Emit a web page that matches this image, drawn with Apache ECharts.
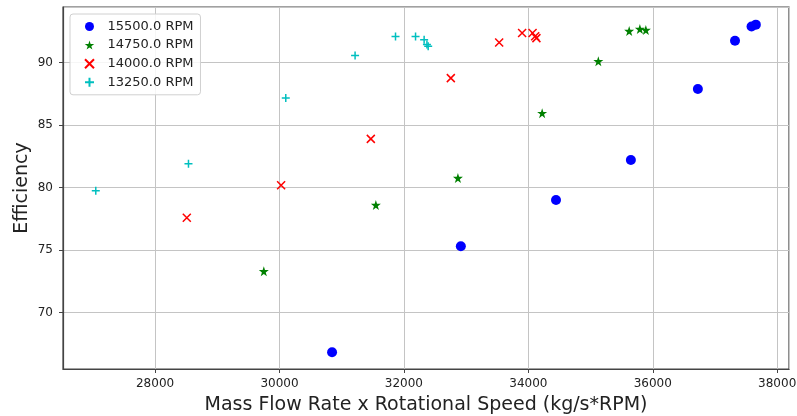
<!DOCTYPE html>
<html>
<head>
<meta charset="utf-8">
<script src="https://cdn.jsdelivr.net/npm/echarts@6/dist/echarts.min.js"></script>
<style>html,body{margin:0;padding:0;background:#fff}#c{width:797px;height:416px}</style>
</head>
<body>
<div id="c"></div>
<script>
const seriesNames = ['15500.0 RPM', '14750.0 RPM', '14000.0 RPM', '13250.0 RPM'];
const x15500 = [30845, 32915, 34445, 35648, 36725, 37322, 37588, 37657];
const y15500 = [66.82, 75.3, 79.0, 82.2, 87.88, 91.74, 92.88, 93.03];
const x14750 = [29748, 31549, 32868, 34222, 35125, 35621, 35793, 35889];
const y14750 = [73.3, 78.6, 80.76, 85.95, 90.1, 92.52, 92.68, 92.6];
const x14000 = [28510, 30026, 31468, 32754, 33531, 33900, 34068, 34110, 34130];
const y14000 = [77.58, 80.18, 83.89, 88.75, 91.6, 92.36, 92.36, 92.1, 91.95];
const x13250 = [27047, 28537, 30101, 31215, 31865, 32187, 32325, 32370, 32390];
const y13250 = [79.74, 81.9, 87.17, 90.56, 92.08, 92.08, 91.82, 91.45, 91.3];
const xTitle = 'Mass Flow Rate x Rotational Speed (kg/s*RPM)';
const yTitle = 'Efficiency';

const font = 'DejaVu Sans';
const pair = (xs, ys) => xs.map((v, i) => [v, ys[i]]);
const starPath = 'path://M10,0L12.245,6.91L19.511,6.91L13.633,11.18L15.878,18.09L10,13.82L4.122,18.09L6.367,11.18L0.489,6.91L7.755,6.91Z';
const xPath = 'path://M0,0L10,10M10,0L0,10';
const plusPath = 'path://M5,0L5,10M0,5L10,5';

const chart = echarts.init(document.getElementById('c'), null, {renderer: 'canvas'});
chart.setOption({
  animation: false,
  backgroundColor: '#fff',
  grid: {left: 63, right: 8, top: 7, bottom: 47, show: true, borderColor: '#444', borderWidth: 1.2,
    containLabel: false, outerBoundsMode: 'none'},
  legend: {
    orient: 'vertical', left: 70, top: 14,
    itemWidth: 26, itemHeight: 9, itemGap: 5.6,
    padding: [6, 7, 6, 14],
    backgroundColor: 'rgba(255,255,255,0.85)', borderColor: '#d0d0d0', borderWidth: 1, borderRadius: 3,
    textStyle: {fontFamily: font, fontSize: 13, color: '#222'},
    data: seriesNames
  },
  xAxis: {
    type: 'value', min: 26520, max: 38190, splitNumber: 5,
    axisLine: {show: true, onZero: false, lineStyle: {color: '#444', width: 1.2}},
    axisTick: {show: true, length: 4, lineStyle: {color: '#444'}},
    axisLabel: {fontFamily: font, fontSize: 12, color: '#222', margin: 9, showMinLabel: false, showMaxLabel: false,
      formatter: v => (v % 2000 === 0 ? String(v) : '')},
    splitLine: {show: true, lineStyle: {color: '#c4c4c4', width: 1}},
    name: xTitle, nameLocation: 'middle', nameGap: 27,
    nameTextStyle: {fontFamily: font, fontSize: 19, color: '#222'}
  },
  yAxis: {
    type: 'value', min: 65.48, max: 94.44, splitNumber: 6,
    axisLine: {show: true, onZero: false, lineStyle: {color: '#444', width: 1.2}},
    axisTick: {show: true, length: 4, lineStyle: {color: '#444'}},
    axisLabel: {fontFamily: font, fontSize: 12, color: '#222', margin: 10, showMinLabel: false, showMaxLabel: false,
      formatter: v => (Math.abs(v % 5) < 1e-6 ? String(v) : '')},
    splitLine: {show: true, lineStyle: {color: '#c4c4c4', width: 1}},
    name: yTitle, nameLocation: 'middle', nameGap: 31, nameRotate: 90, nameMoveOverlap: false,
    nameTextStyle: {fontFamily: font, fontSize: 19, color: '#222'}
  },
  series: [
    {name: seriesNames[0], type: 'scatter', data: pair(x15500, y15500), symbol: 'circle', symbolSize: 10,
      itemStyle: {color: '#0000ff', opacity: 1}},
    {name: seriesNames[1], type: 'scatter', data: pair(x14750, y14750), symbol: starPath, symbolSize: 10,
      itemStyle: {color: '#008000', opacity: 1}},
    {name: seriesNames[2], type: 'scatter', data: pair(x14000, y14000), symbol: xPath, symbolSize: 8,
      itemStyle: {color: 'transparent', borderColor: '#ff0000', borderWidth: 1.5, opacity: 1}},
    {name: seriesNames[3], type: 'scatter', data: pair(x13250, y13250), symbol: plusPath, symbolSize: 8,
      itemStyle: {color: 'transparent', borderColor: '#00bfbf', borderWidth: 1.5, opacity: 1}}
  ]
});
</script>
</body>
</html>
